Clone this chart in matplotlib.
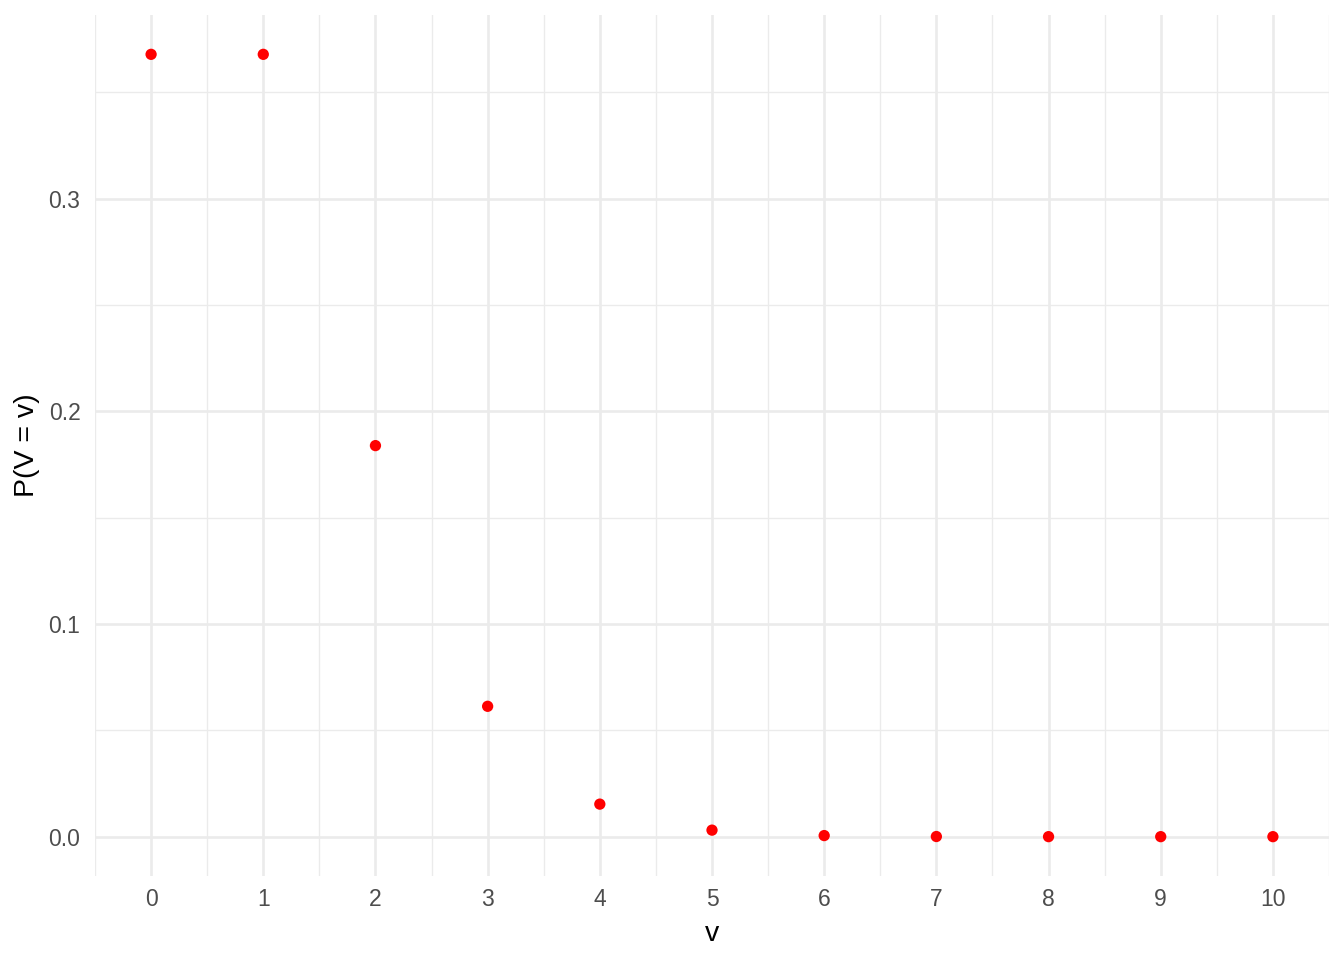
import matplotlib
matplotlib.use("Agg")
import matplotlib.pyplot as plt

plt.rcParams['font.family'] = ['Liberation Sans', 'DejaVu Sans']

v = [0, 1, 2, 3, 4, 5, 6, 7, 8, 9, 10]
p = [0.3679, 0.3679, 0.1839, 0.0613, 0.0153, 0.00307, 0.00051, 0.000073, 0.0000091, 0.000001, 0.0000001]
xticks = list(range(0, 11))
yticks = [0.0, 0.1, 0.2, 0.3]
yticklabels = ["0.0", "0.1", "0.2", "0.3"]

fig = plt.figure(figsize=(13.44, 9.6), dpi=100)
ax = fig.add_axes([95/1344, 84/960, (1329-95)/1344, (876-15)/960])

ax.set_xlim(-0.5, 10.5)
ax.set_ylim(-0.0185, 0.3864)

grid_col = "#EBEBEB"
for x in [i + 0.5 for i in range(-1, 11)]:
    ax.axvline(x, color=grid_col, lw=0.95, zorder=0)
for y in [0.05, 0.15, 0.25, 0.35]:
    ax.axhline(y, color=grid_col, lw=0.95, zorder=0)
for x in xticks:
    ax.axvline(x, color=grid_col, lw=1.9, zorder=0)
for y in yticks:
    ax.axhline(y, color=grid_col, lw=1.9, zorder=0)

ax.scatter(v, p, s=66, color="#FF0000", edgecolors="none", zorder=3)

ax.set_xticks(xticks)
ax.set_xticklabels([str(t) for t in xticks])
ax.set_yticks(yticks)
ax.set_yticklabels(yticklabels)
ax.tick_params(axis='x', length=0, labelsize=16.5, labelcolor="#4D4D4D", pad=9)
ax.tick_params(axis='y', length=0, labelsize=16.5, labelcolor="#4D4D4D", pad=10.5)
for s in ax.spines.values():
    s.set_visible(False)

ax.set_xlabel("v", fontsize=20.5, color="black", labelpad=6.5)
ax.set_ylabel("P(V = v)", fontsize=20.5, color="black", labelpad=6.5)

fig.savefig("out.png", dpi=100)
